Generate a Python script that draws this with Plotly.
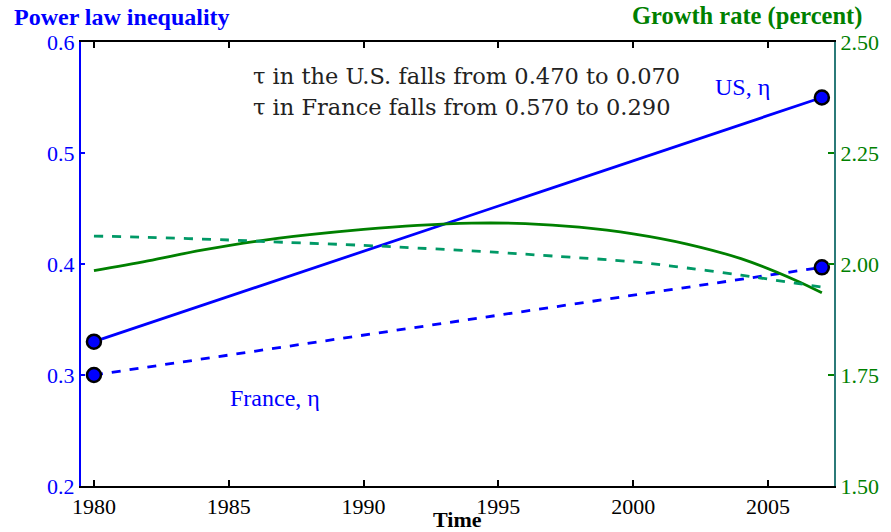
import plotly.graph_objects as go

# ---- data ----
years_eta = [1980, 2007]
us_eta = [0.33, 0.55]
fr_eta = [0.30, 0.397]

years_g = [1980, 1982, 1984, 1986, 1988, 1990, 1992, 1994, 1996, 1998, 2000, 2002, 2004, 2006, 2007]
us_growth = [1.985, 2.007, 2.031, 2.051, 2.066, 2.078, 2.087, 2.092, 2.091, 2.083, 2.068, 2.045, 2.012, 1.964, 1.935]

years_gd = [1980, 1982, 1985, 1987, 1990, 1992, 1995, 1997, 2000, 2002, 2004, 2005, 2006, 2007]
fr_growth = [2.063, 2.060, 2.054, 2.049, 2.042, 2.036, 2.026, 2.018, 2.005, 1.991, 1.975, 1.966, 1.957, 1.948]

x_ticks = [1980, 1985, 1990, 1995, 2000, 2005]
left_ticks = [0.2, 0.3, 0.4, 0.5, 0.6]
left_labels = ["0.2", "0.3", "0.4", "0.5", "0.6"]
right_ticks = [1.50, 1.75, 2.00, 2.25, 2.50]
right_labels = ["1.50", "1.75", "2.00", "2.25", "2.50"]

BLUE = "#0000ff"
GREEN = "#008000"
GREEN_D = "#009966"
SERIF = "Liberation Serif"

PL, PR, PT, PB = 81, 841, 42, 486  # plot area in page pixels
W, H = 891, 532

fig = go.Figure()

fig.add_trace(go.Scatter(x=years_g, y=us_growth, mode="lines", yaxis="y2",
                         line=dict(color=GREEN, width=2.8, shape="spline", smoothing=1.0), showlegend=False))
fig.add_trace(go.Scatter(x=years_gd, y=fr_growth, mode="lines", yaxis="y2",
                         line=dict(color=GREEN_D, width=2.8, dash="dash", shape="spline"), showlegend=False))
fig.add_trace(go.Scatter(x=years_eta, y=us_eta, mode="lines+markers",
                         line=dict(color=BLUE, width=2.8),
                         marker=dict(size=14, color=BLUE, line=dict(color="black", width=2.5)),
                         showlegend=False))
fig.add_trace(go.Scatter(x=years_eta, y=fr_eta, mode="lines+markers",
                         line=dict(color=BLUE, width=2.8, dash="dash"),
                         marker=dict(size=14, color=BLUE, line=dict(color="black", width=2.5)),
                         showlegend=False))

fig.update_layout(
    width=W, height=H,
    margin=dict(l=PL, r=W - PR, t=PT, b=H - PB, pad=0),
    paper_bgcolor="white", plot_bgcolor="white",
    font=dict(family=SERIF, size=22, color="black"),
    xaxis=dict(range=[1979.52, 2007.45], tickvals=x_ticks, ticktext=[str(v) for v in x_ticks],
               ticks="inside", ticklen=6, tickwidth=1.5, tickcolor="black",
               showline=True, linecolor="black", linewidth=2, mirror="ticks",
               showgrid=False, zeroline=False, tickfont=dict(family=SERIF, size=22, color="black")),
    yaxis=dict(range=[0.2, 0.6], tickvals=left_ticks, ticktext=left_labels,
               ticks="inside", ticklen=4, tickwidth=1.5, tickcolor=BLUE,
               showline=True, linecolor=BLUE, linewidth=2,
               showgrid=False, zeroline=False, tickfont=dict(family=SERIF, size=22, color=BLUE)),
    yaxis2=dict(range=[1.5, 2.5], tickvals=right_ticks, ticktext=right_labels,
                overlaying="y", side="right", anchor="x",
                ticks="inside", ticklen=6, tickwidth=1.5, tickcolor=GREEN,
                showline=True, linecolor="#2b7a78", linewidth=2,
                showgrid=False, zeroline=False, tickfont=dict(family=SERIF, size=22, color=GREEN)),
)

ann = [
    dict(text="<b>Power law inequality</b>", x=12, y=31.5, size=24, color=BLUE, xanchor="left", yanchor="bottom", family=SERIF),
    dict(text="<b>Growth rate (percent)</b>", x=870, y=31.5, size=24.5, color=GREEN, xanchor="right", yanchor="bottom", family=SERIF),
    dict(text="<b>Time</b>", x=461, y=533, size=22, color="black", xanchor="center", yanchor="bottom", family=SERIF),
    dict(text="τ in the U.S. falls from 0.470 to 0.070", x=254, y=76, size=22.5, color="#222222",
         xanchor="left", yanchor="middle", family="DejaVu Serif"),
    dict(text="τ in France falls from 0.570 to 0.290", x=254, y=107, size=22.5, color="#222222",
         xanchor="left", yanchor="middle", family="DejaVu Serif"),
    dict(text="US, η", x=720, y=87, size=24, color=BLUE, xanchor="left", yanchor="middle", family=SERIF),
    dict(text="France, η", x=230, y=398, size=24, color=BLUE, xanchor="left", yanchor="middle", family=SERIF),
]
for a in ann:
    fig.add_annotation(xref="paper", yref="paper",
                       x=(a["x"] - PL) / (PR - PL), y=(PB - a["y"]) / (PB - PT),
                       text=a["text"], showarrow=False, xanchor=a["xanchor"], yanchor=a["yanchor"],
                       borderpad=0,
                       font=dict(family=a["family"], size=a["size"], color=a["color"]))

fig.write_html("out.html", config={"displayModeBar": False},
               post_script="document.body.style.margin='0';document.body.style.padding='0';")
